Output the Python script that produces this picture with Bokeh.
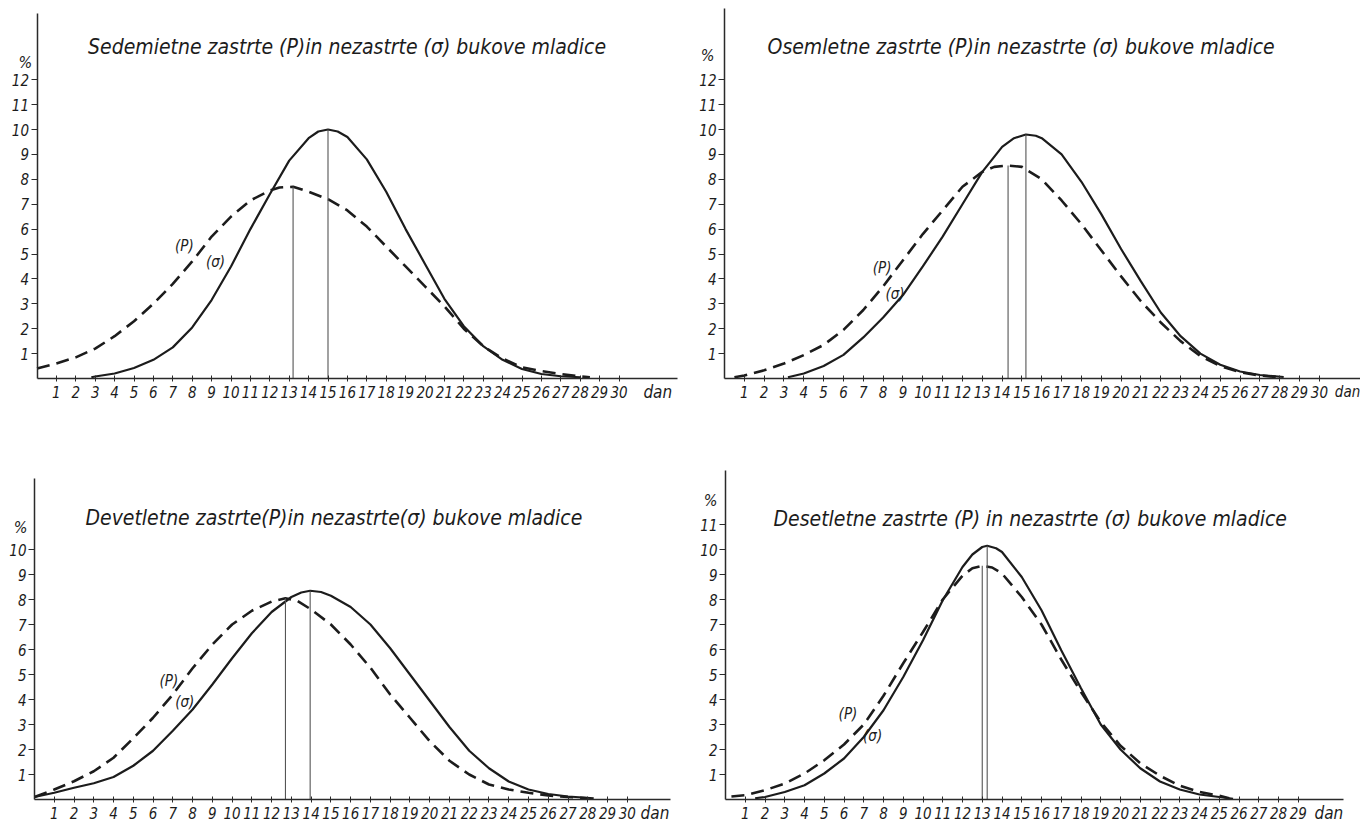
from bokeh.plotting import figure
from bokeh.models import FixedTicker
from bokeh.layouts import gridplot
from bokeh.core.properties import value
from bokeh.embed import file_html
from bokeh.resources import INLINE

FONT = "Liberation Sans Narrow, DejaVu Sans Condensed, sans-serif"

# ---------------- data ----------------
titles = [
    "Sedemietne zastrte (P)in nezastrte (σ) bukove mladice",
    "Osemletne zastrte (P)in nezastrte (σ) bukove mladice",
    "Devetletne zastrte(P)in nezastrte(σ) bukove mladice",
    "Desetletne zastrte (P) in nezastrte (σ) bukove mladice",
]

# panel 1 : seven-year-old
p1_P_day = [0, 1, 2, 3, 4, 5, 6, 7, 8, 9, 10, 11, 12, 12.5, 13.2, 14, 15, 16, 17, 18, 19, 20, 21, 22, 23, 24, 25, 26, 27, 28, 28.5]
p1_P_val = [0.4, 0.6, 0.85, 1.2, 1.7, 2.3, 3.0, 3.8, 4.7, 5.7, 6.5, 7.15, 7.55, 7.67, 7.7, 7.5, 7.2, 6.75, 6.1, 5.3, 4.5, 3.7, 2.9, 2.0, 1.3, 0.8, 0.45, 0.3, 0.18, 0.08, 0.05]
p1_O_day = [2.8, 3, 4, 5, 6, 7, 8, 9, 10, 11, 12, 13, 14, 14.5, 15, 15.5, 16, 17, 18, 19, 20, 21, 22, 23, 24, 25, 26, 27, 28]
p1_O_val = [0.05, 0.08, 0.2, 0.42, 0.75, 1.25, 2.05, 3.15, 4.5, 6.0, 7.4, 8.75, 9.65, 9.92, 10.0, 9.92, 9.7, 8.8, 7.5, 6.0, 4.6, 3.2, 2.1, 1.3, 0.75, 0.38, 0.18, 0.09, 0.05]

# panel 2 : eight-year-old
p2_P_day = [0.5, 1, 2, 3, 4, 5, 6, 7, 8, 9, 10, 11, 12, 13, 13.6, 14.3, 15, 16, 17, 18, 19, 20, 21, 22, 23, 24, 25, 26, 27, 28]
p2_P_val = [0.05, 0.12, 0.33, 0.6, 0.94, 1.35, 1.95, 2.75, 3.7, 4.75, 5.8, 6.75, 7.7, 8.3, 8.5, 8.55, 8.5, 8.0, 7.15, 6.2, 5.15, 4.1, 3.1, 2.25, 1.5, 0.9, 0.5, 0.25, 0.12, 0.05]
p2_O_day = [3.2, 4, 5, 6, 7, 8, 9, 10, 11, 12, 13, 14, 14.6, 15.2, 15.7, 16, 17, 18, 19, 20, 21, 22, 23, 24, 25, 26, 27, 28.2]
p2_O_val = [0.05, 0.2, 0.5, 0.95, 1.65, 2.45, 3.35, 4.5, 5.7, 7.0, 8.3, 9.3, 9.65, 9.8, 9.75, 9.65, 9.0, 7.9, 6.6, 5.2, 3.9, 2.65, 1.7, 1.0, 0.55, 0.28, 0.14, 0.06]

# panel 3 : nine-year-old
p3_P_day = [0, 1, 2, 3, 4, 5, 6, 7, 8, 9, 10, 11, 12, 12.7, 13.3, 14, 15, 16, 17, 18, 19, 20, 21, 22, 23, 24, 25, 26, 27, 28]
p3_P_val = [0.1, 0.4, 0.73, 1.13, 1.67, 2.45, 3.27, 4.2, 5.25, 6.2, 7.0, 7.55, 7.92, 8.05, 7.95, 7.6, 7.0, 6.2, 5.27, 4.2, 3.27, 2.33, 1.55, 1.0, 0.6, 0.4, 0.27, 0.16, 0.1, 0.05]
p3_O_day = [0, 1, 2, 3, 4, 5, 6, 7, 8, 9, 10, 11, 12, 13, 13.5, 13.95, 14.5, 15, 16, 17, 18, 19, 20, 21, 22, 23, 24, 25, 26, 27, 28.3]
p3_O_val = [0.1, 0.27, 0.47, 0.65, 0.9, 1.35, 1.95, 2.75, 3.6, 4.6, 5.65, 6.65, 7.5, 8.1, 8.28, 8.35, 8.3, 8.15, 7.7, 7.0, 6.05, 5.0, 3.95, 2.9, 1.95, 1.25, 0.72, 0.4, 0.22, 0.12, 0.05]

# panel 4 : ten-year-old
p4_P_day = [0.3, 1, 2, 3, 4, 5, 6, 7, 8, 9, 10, 11, 12, 12.5, 13, 13.5, 14, 15, 16, 17, 18, 19, 20, 21, 22, 23, 24, 25, 25.5]
p4_P_val = [0.12, 0.17, 0.37, 0.64, 1.04, 1.57, 2.2, 3.0, 4.15, 5.45, 6.7, 8.0, 8.95, 9.25, 9.35, 9.28, 9.04, 8.1, 7.0, 5.6, 4.3, 3.1, 2.15, 1.45, 0.95, 0.55, 0.3, 0.15, 0.05]
p4_O_day = [1.5, 2, 3, 4, 5, 6, 7, 8, 9, 10, 11, 12, 12.5, 13, 13.25, 13.7, 14, 15, 16, 17, 18, 19, 20, 21, 22, 23, 24, 25, 25.7]
p4_O_val = [0.05, 0.1, 0.3, 0.57, 1.04, 1.64, 2.5, 3.57, 4.9, 6.37, 7.97, 9.3, 9.8, 10.1, 10.15, 10.05, 9.9, 8.9, 7.57, 5.97, 4.45, 3.0, 2.0, 1.25, 0.72, 0.4, 0.2, 0.1, 0.03]

# peak (mean) positions marked with thin vertical lines
peak_P_day = [13.2, 14.3, 12.7, 13.0]
peak_P_val = [7.7, 8.55, 8.05, 9.35]
peak_O_day = [15.0, 15.2, 13.95, 13.25]
peak_O_val = [10.0, 9.8, 8.35, 10.15]

x_ticks = [list(range(1, 31)), list(range(1, 31)), list(range(1, 31)), list(range(1, 30))]
y_ticks = [list(range(1, 13)), list(range(1, 13)), list(range(1, 11)), list(range(1, 12))]

INK = "#1c1c1c"


def make_panel(i, P_day, P_val, O_day, O_val, W, H, X0, sx, Y0, sy, xmax, ymax,
               title_xy, pct_xy, dan_xy, dan_align, P_lab, O_lab):
    # frame fills the whole figure; X0/Y0 = pixel of the origin inside the figure
    x_range = (-X0 / sx, (W - X0) / sx)
    y_range = (-(H - Y0) / sy, Y0 / sy)
    p = figure(width=W, height=H, x_range=x_range, y_range=y_range,
               output_backend="svg", toolbar_location=None,
               min_border_left=0, min_border_right=0, min_border_top=0, min_border_bottom=0)
    p.title.visible = False
    p.grid.visible = False
    p.outline_line_color = None
    p.background_fill_color = "white"
    p.border_fill_color = "white"

    xa = p.xaxis[0]
    xa.fixed_location = 0
    xa.bounds = (0, xmax)
    xa.ticker = FixedTicker(ticks=x_ticks[i])
    xa.minor_tick_line_color = None
    xa.axis_line_color = "#2a2a2a"
    xa.axis_line_width = 1.5
    xa.major_tick_line_color = "#2a2a2a"
    xa.major_tick_in = 3
    xa.major_tick_out = 3
    xa.major_label_standoff = 4
    xa.major_label_text_font = FONT
    xa.major_label_text_font_style = "italic"
    xa.major_label_text_font_size = "15px"
    xa.major_label_text_color = INK

    ya = p.yaxis[0]
    ya.fixed_location = 0
    ya.bounds = (0, ymax)
    ya.ticker = FixedTicker(ticks=y_ticks[i])
    ya.minor_tick_line_color = None
    ya.axis_line_color = "#2a2a2a"
    ya.axis_line_width = 1.5
    ya.major_tick_line_color = "#2a2a2a"
    ya.major_tick_in = 0
    ya.major_tick_out = 6
    ya.major_label_standoff = 2
    ya.major_label_text_font = FONT
    ya.major_label_text_font_style = "italic"
    ya.major_label_text_font_size = "15px"
    ya.major_label_text_color = INK

    # curves
    p.line(P_day, P_val, line_color=INK, line_width=2.6, line_dash="13 7")
    p.line(O_day, O_val, line_color=INK, line_width=2.2)
    # vertical mean lines
    p.segment(x0=[peak_P_day[i], peak_O_day[i]], y0=[0, 0],
              x1=[peak_P_day[i], peak_O_day[i]], y1=[peak_P_val[i], peak_O_val[i]],
              line_color="#555555", line_width=1.1)

    common = dict(text_font=value(FONT), text_font_style="italic", text_color=INK,
                  text_baseline="middle")
    p.text(x=[title_xy[0]], y=[title_xy[1]], text=[titles[i]], text_font_size="21px",
           text_align="left", **common)
    p.text(x=[P_lab[0]], y=[P_lab[1]], text=["(P)"], text_font_size="15px",
           text_align="center", **common)
    p.text(x=[O_lab[0]], y=[O_lab[1]], text=["(σ)"], text_font_size="15px",
           text_align="center", **common)
    p.text(x=[pct_xy[0]], y=[pct_xy[1]], text=["%"], text_font_size="16px",
           text_align="center", **common)
    p.text(x=[dan_xy[0]], y=[dan_xy[1]], text=["dan"], text_font_size=dan_xy[2],
           text_align=dan_align, **common)
    return p


p1 = make_panel(0, p1_P_day, p1_P_val, p1_O_day, p1_O_val,
                W=698, H=408, X0=36.5, sx=19.4, Y0=378, sy=24.9, xmax=33.0, ymax=14.66,
                title_xy=(2.63, 13.3), pct_xy=(-0.6, 12.7), dan_xy=(32.0, -0.55, "17px"), dan_align="center",
                P_lab=(7.6, 5.34), O_lab=(9.2, 4.66))
p2 = make_panel(1, p2_P_day, p2_P_val, p2_O_day, p2_O_val,
                W=662, H=408, X0=26, sx=19.83, Y0=378, sy=24.9, xmax=32.1, ymax=14.86,
                title_xy=(2.17, 13.3), pct_xy=(-0.85, 12.97), dan_xy=(30.78, -0.55, "15px"), dan_align="left",
                P_lab=(7.95, 4.42), O_lab=(8.6, 3.4))
p3 = make_panel(2, p3_P_day, p3_P_val, p3_O_day, p3_O_val,
                W=698, H=416, X0=34, sx=19.76, Y0=391, sy=25.0, xmax=32.2, ymax=12.84,
                title_xy=(2.58, 11.28), pct_xy=(-0.7, 10.88), dan_xy=(31.4, -0.55, "17px"), dan_align="center",
                P_lab=(6.8, 4.76), O_lab=(7.6, 3.9))
p4 = make_panel(3, p4_P_day, p4_P_val, p4_O_day, p4_O_val,
                W=662, H=416, X0=27, sx=19.75, Y0=391, sy=25.0, xmax=31.3, ymax=13.16,
                title_xy=(2.43, 11.24), pct_xy=(-0.76, 11.96), dan_xy=(30.55, -0.55, "17px"), dan_align="center",
                P_lab=(6.2, 3.44), O_lab=(7.45, 2.56))

grid = gridplot([[p1, p2], [p3, p4]], toolbar_location=None)

open("out.html", "w").write(file_html(grid, INLINE))
